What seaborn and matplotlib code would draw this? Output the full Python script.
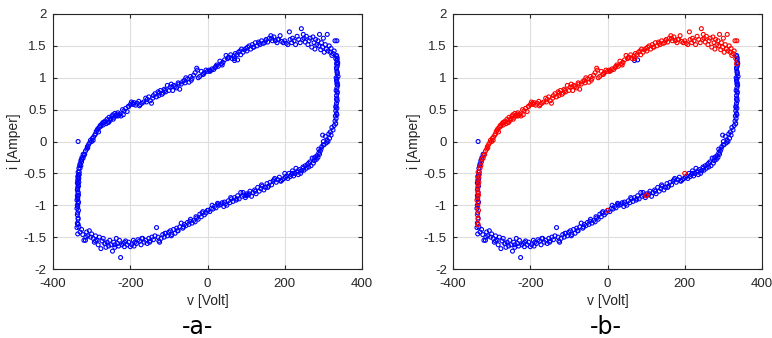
import numpy as np
import pandas as pd
import seaborn as sns
import matplotlib.pyplot as plt
from matplotlib.ticker import FixedLocator, FuncFormatter

# ---------------- data ----------------
# upper branch (red in panel b)
up_edge_v = [-336, -335, -337, -334, -336, -335, -338, -336, -334, -335, -337, -336, -335, -333, -336, -334, -332, -335]
up_edge_i = [-1.30, -1.22, -1.15, -1.08, -1.02, -0.97, -0.92, -0.88, -0.84, -0.80, -0.76, -0.72, -0.68, -0.64, -0.60, -0.56, -0.52, -0.48]
up_knee_v = [-330, -328, -326, -325, -322, -320, -318, -316, -313, -311, -308, -305, -303, -300, -298]
up_knee_i = [-0.42, -0.38, -0.32, -0.28, -0.26, -0.22, -0.20, -0.15, -0.12, -0.08, -0.05, -0.02, 0.02, 0.00, 0.05]
up_a_v = [-295, -292, -290, -288, -285, -282, -280, -278, -276, -273, -270, -268, -265, -262, -260, -258, -255, -252, -250, -247,
          -245, -242, -240, -237, -235, -232, -230, -227, -224, -220, -216, -212, -208, -204, -200, -197, -194, -190]
up_a_i = [0.07, 0.10, 0.12, 0.16, 0.18, 0.15, 0.22, 0.25, 0.24, 0.28, 0.26, 0.30, 0.32, 0.28, 0.35, 0.30, 0.38, 0.33, 0.36, 0.40,
          0.42, 0.38, 0.44, 0.40, 0.42, 0.45, 0.41, 0.43, 0.40, 0.50, 0.48, 0.52, 0.47, 0.55, 0.58, 0.62, 0.60, 0.61]
up_b_v = [-186, -182, -178, -174, -170, -165, -160, -156, -152, -148, -145, -140, -136, -132, -128, -125, -122, -118, -115, -112,
          -108, -104, -100, -97, -94, -90, -87, -84, -80, -76, -72, -68, -64, -60, -56, -52, -48, -44, -40, -36,
          -32, -28, -24, -20, -16, -12, -8, -4, 0]
up_b_i = [0.57, 0.60, 0.63, 0.58, 0.60, 0.62, 0.68, 0.66, 0.70, 0.64, 0.60, 0.72, 0.75, 0.70, 0.78, 0.76, 0.80, 0.74, 0.76, 0.82,
          0.78, 0.88, 0.80, 0.85, 0.90, 0.80, 0.88, 0.86, 0.84, 0.92, 0.82, 0.90, 0.94, 0.96, 1.00, 0.98, 0.93, 1.02, 0.99, 1.04,
          1.08, 1.15, 1.00, 1.02, 1.10, 1.05, 1.08, 1.12, 1.10]
up_c_v = [4, 8, 12, 16, 20, 24, 28, 32, 36, 40, 44, 48, 52, 56, 60, 64, 68, 72, 76, 80,
          84, 88, 92, 96, 100, 104, 108, 112, 116, 120, 124, 128, 132, 136, 140, 144, 148, 152, 156, 160,
          164, 168, 172, 176, 180, 184, 188, 192, 196]
up_c_i = [1.12, 1.11, 1.14, 1.13, 1.16, 1.20, 1.18, 1.26, 1.22, 1.24, 1.28, 1.35, 1.30, 1.32, 1.36, 1.30, 1.34, 1.38, 1.36, 1.40,
          1.42, 1.45, 1.40, 1.44, 1.46, 1.48, 1.50, 1.45, 1.52, 1.48, 1.55, 1.50, 1.56, 1.52, 1.58, 1.54, 1.55, 1.60, 1.56, 1.62,
          1.66, 1.58, 1.64, 1.58, 1.55, 1.60, 1.66, 1.57, 1.55]
up_top_v = [200, 204, 208, 212, 214, 218, 220, 224, 228, 232, 236, 240, 243, 246, 248, 250, 253, 256, 260, 263,
            266, 270, 273, 276, 278, 280, 283, 286, 288, 290, 293, 295, 298, 300, 302, 305, 308, 310, 312, 315,
            318, 320, 322, 325, 328, 330, 332, 334, 335]
up_top_i = [1.58, 1.54, 1.52, 1.72, 1.60, 1.55, 1.62, 1.58, 1.52, 1.65, 1.60, 1.55, 1.77, 1.60, 1.68, 1.62, 1.56, 1.65, 1.52, 1.58,
            1.62, 1.48, 1.64, 1.55, 1.45, 1.60, 1.52, 1.58, 1.50, 1.68, 1.44, 1.55, 1.48, 1.62, 1.40, 1.52, 1.45, 1.68, 1.42, 1.50,
            1.40, 1.46, 1.35, 1.38, 1.42, 1.58, 1.30, 1.22, 1.58]
up_extra_v = [-310, -296, -284, -270, -256, -244, -232, -218, -205, -192, -176, -158, -142, -126, -110, -92, -74, -58, -42, -26,
              -10, 6, 22, 38, 54, 70, 86, 102, 118, 134, 150, 166, 182]
up_extra_i = [-0.10, 0.02, 0.20, 0.30, 0.30, 0.35, 0.40, 0.42, 0.55, 0.58, 0.56, 0.62, 0.68, 0.72, 0.80, 0.86, 0.90, 0.92, 0.96, 1.12,
              1.06, 1.10, 1.18, 1.20, 1.32, 1.30, 1.36, 1.42, 1.48, 1.54, 1.58, 1.62, 1.60]
up_stray_v = [200, 100, 102, 0, -335]
up_stray_i = [-0.50, -0.85, -0.84, -1.08, -1.30]

# lower branch (blue in panel b)
lo_edge_v = [334, 336, 335, 337, 336, 334, 335, 336, 338, 335, 334, 336, 337, 335, 333, 336, 334, 335, 336, 334,
             333, 335, 332, 334, 331, 333, 330, 332, 335, 337, 334, 336, 333, 335, 336, 334, 332, 335]
lo_edge_i = [1.35, 1.30, 1.27, 1.22, 1.18, 1.14, 1.10, 1.06, 1.02, 0.98, 0.95, 0.92, 0.88, 0.84, 0.80, 0.76, 0.72, 0.68, 0.64, 0.60,
             0.56, 0.52, 0.48, 0.44, 0.40, 0.36, 0.32, 0.28, 1.33, 1.24, 1.16, 1.08, 1.00, 0.90, 0.78, 0.66, 0.54, 0.42]
lo_knee_v = [328, 325, 322, 320, 318, 316, 314, 312, 310, 308, 305, 302, 300, 298, 296, 294, 292, 290, 288, 286,
             284, 282, 280, 277, 274, 271, 268, 265, 262, 259, 256, 253, 250, 247, 244, 241, 238, 235, 232, 229,
             226, 223, 220, 217, 214, 211, 208, 205, 202]
lo_knee_i = [0.25, 0.18, 0.22, 0.10, 0.15, 0.05, 0.12, 0.00, 0.02, -0.02, 0.08, -0.05, 0.00, 0.10, -0.08, -0.12, -0.15, -0.20, -0.18, -0.25,
             -0.22, -0.28, -0.24, -0.30, -0.34, -0.26, -0.38, -0.32, -0.40, -0.36, -0.42, -0.38, -0.45, -0.40, -0.46, -0.50, -0.44, -0.52, -0.48, -0.42,
             -0.50, -0.54, -0.46, -0.52, -0.55, -0.50, -0.58, -0.54, -0.56]
lo_a_v = [198, 194, 190, 186, 182, 178, 174, 170, 166, 162, 158, 154, 150, 146, 142, 138, 134, 130, 126, 122,
          118, 114, 110, 106, 102, 98, 94, 90, 86, 82, 78, 74, 70, 66, 62, 58, 54, 50, 46, 42,
          38, 34, 30, 26, 22, 18, 14, 10, 6, 2]
lo_a_i = [-0.58, -0.60, -0.62, -0.56, -0.60, -0.64, -0.58, -0.62, -0.68, -0.64, -0.70, -0.66, -0.72, -0.76, -0.70, -0.74, -0.78, -0.72, -0.82, -0.76,
          -0.80, -0.86, -0.78, -0.84, -0.82, -0.88, -0.84, -0.86, -0.80, -0.90, -0.85, -0.92, -0.88, -0.94, -0.90, -0.96, -0.93, -1.00, -0.98, -1.02,
          -0.96, -0.99, -1.00, -0.97, -1.04, -1.02, -1.06, -1.05, -1.10, -1.08]
lo_b_v = [-4, -8, -12, -16, -20, -24, -28, -32, -36, -40, -44, -48, -52, -56, -60, -64, -68, -72, -76, -80,
          -84, -88, -92, -96, -100, -104, -108, -112, -116, -120, -124, -128, -132, -136, -140, -144, -148, -152, -156, -160,
          -164, -168, -172, -176, -180, -184, -188, -192, -196]
lo_b_i = [-1.12, -1.15, -1.10, -1.18, -1.14, -1.22, -1.20, -1.26, -1.24, -1.28, -1.22, -1.30, -1.27, -1.32, -1.30, -1.36, -1.28, -1.34, -1.40, -1.36,
          -1.44, -1.38, -1.46, -1.40, -1.42, -1.48, -1.44, -1.50, -1.46, -1.52, -1.58, -1.50, -1.35, -1.48, -1.54, -1.50, -1.56, -1.52, -1.60, -1.55,
          -1.58, -1.52, -1.62, -1.56, -1.54, -1.60, -1.58, -1.55, -1.62]
lo_bot_v = [-200, -204, -208, -212, -215, -218, -222, -225, -228, -230, -233, -236, -240, -243, -246, -250, -253, -256, -260, -263,
            -266, -270, -273, -276, -280, -283, -286, -290, -293, -296, -300, -303, -306, -310, -313, -316, -320, -323, -326, -330, -333]
lo_bot_i = [-1.65, -1.58, -1.62, -1.56, -1.65, -1.60, -1.62, -1.82, -1.55, -1.64, -1.60, -1.52, -1.66, -1.58, -1.72, -1.62, -1.55, -1.64, -1.58, -1.66,
            -1.60, -1.52, -1.56, -1.68, -1.50, -1.62, -1.55, -1.48, -1.58, -1.52, -1.45, -1.50, -1.40, -1.48, -1.42, -1.55, -1.55, -1.46, -1.38, -1.42, -1.34]
lo_left_v = [-336, -338, -337, -335, -336, -338, -337, -334, -336, -337, -335, -336, -334, -337, -335, -333, -336, -334, -332, -333,
             -331, -330, -328, -326, -325, -322, -335]
lo_left_i = [-1.45, -1.35, -1.28, -1.20, -1.12, -1.05, -1.00, -0.95, -0.90, -0.85, -0.80, -0.75, -0.70, -0.65, -0.62, -0.58, -0.55, -0.52, -0.48, -0.42,
             -0.38, -0.35, -0.30, -0.28, -0.25, -0.20, 0.00]
lo_extra_v = [300, 288, 276, 262, 248, 234, 220, 190, 172, 156, 140, 124, 108, 92, 76, 60, 44, 28, 12, -14,
              -30, -46, -62, -78, -94, -110, -126, -150, -170, -190, -215, -240, -265, -290, -315]
lo_extra_i = [-0.05, -0.12, -0.26, -0.34, -0.42, -0.46, -0.50, -0.62, -0.60, -0.72, -0.68, -0.78, -0.82, -0.80, -0.90, -0.88, -0.95, -0.98, -1.00, -1.12,
              -1.18, -1.25, -1.34, -1.40, -1.48, -1.44, -1.56, -1.58, -1.52, -1.64, -1.58, -1.62, -1.60, -1.56, -1.50]
lo_stray_v = [70, 78]
lo_stray_i = [1.27, 1.28]

x_ticks = [-400, -200, 0, 200, 400]
y_ticks = [-2, -1.5, -1, -0.5, 0, 0.5, 1, 1.5, 2]
panel_labels = ["-a-", "-b-"]

# ---------------- tables ----------------
upper = pd.DataFrame({
    "v": up_edge_v + up_knee_v + up_a_v + up_b_v + up_c_v + up_top_v + up_extra_v + up_stray_v,
    "i": up_edge_i + up_knee_i + up_a_i + up_b_i + up_c_i + up_top_i + up_extra_i + up_stray_i,
})
lower = pd.DataFrame({
    "v": lo_edge_v + lo_knee_v + lo_a_v + lo_b_v + lo_bot_v + lo_left_v + lo_extra_v + lo_stray_v,
    "i": lo_edge_i + lo_knee_i + lo_a_i + lo_b_i + lo_bot_i + lo_left_i + lo_extra_i + lo_stray_i,
})
both = pd.concat([lower, upper], ignore_index=True)

# ---------------- style ----------------
sns.set_theme(style="white")
plt.rcParams["font.family"] = ["Liberation Sans", "DejaVu Sans"]
plt.rcParams["axes.unicode_minus"] = False

fig = plt.figure(figsize=(7.72, 3.38), dpi=100)
axA = fig.add_axes([53 / 772, 69 / 338, 309 / 772, 255 / 338])
axB = fig.add_axes([453 / 772, 69 / 338, 309 / 772, 255 / 338])

mk = dict(marker="o", s=8, linewidth=0.8, facecolors="none", legend=False, zorder=3)
sns.scatterplot(data=both, x="v", y="i", ax=axA, edgecolors="#0000ff", **mk)
sns.scatterplot(data=lower, x="v", y="i", ax=axB, edgecolors="#0000ff", **mk)
sns.scatterplot(data=upper, x="v", y="i", ax=axB, edgecolors="#ff0000", **mk)

def fmt(val, pos):
    return f"{val:g}"

for ax, lab, cx in zip([axA, axB], panel_labels, [198, 606]):
    ax.set_xlim(-400, 400)
    ax.set_ylim(-2, 2)
    ax.xaxis.set_major_locator(FixedLocator(x_ticks))
    ax.yaxis.set_major_locator(FixedLocator(y_ticks))
    ax.xaxis.set_major_formatter(FuncFormatter(fmt))
    ax.yaxis.set_major_formatter(FuncFormatter(fmt))
    ax.grid(True, color="#dedede", linewidth=0.8, zorder=0)
    ax.set_axisbelow(True)
    for sp in ax.spines.values():
        sp.set_color("#262626")
        sp.set_linewidth(0.8)
    ax.tick_params(direction="in", length=3, width=0.8, top=True, right=True,
                   bottom=True, left=True, labelsize=9.5, colors="#262626",
                   labelcolor="#262626")
    ax.tick_params(axis="x", pad=6.5)
    ax.tick_params(axis="y", pad=4.5)
    ax.set_xlabel("v [Volt]", fontsize=10, color="#262626", labelpad=3)
    ax.set_ylabel("i [Amper]", fontsize=10, color="#262626", labelpad=2)
    fig.text(cx / 772, 1 - 327 / 338, lab, ha="center", va="center",
             fontsize=17, color="black", family=["DejaVu Sans"])

fig.savefig("out.png", dpi=100)
